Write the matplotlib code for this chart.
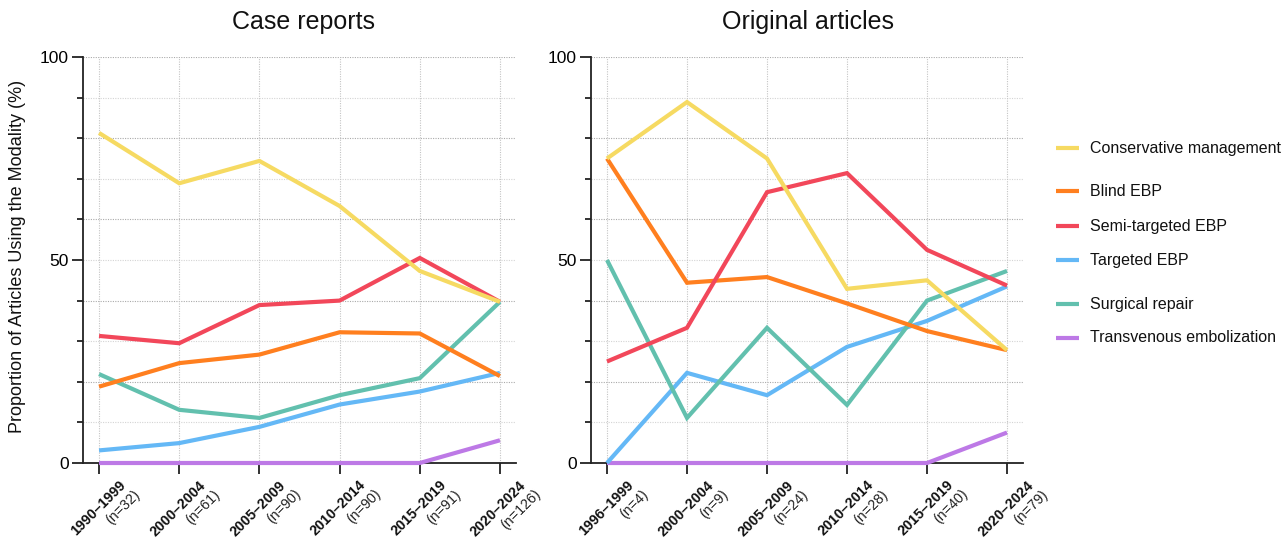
import matplotlib
matplotlib.use("Agg")
import matplotlib.pyplot as plt
from matplotlib.transforms import ScaledTranslation
from matplotlib.lines import Line2D

plt.rcParams['font.family'] = ['Liberation Sans', 'DejaVu Sans']

# ---------------- data ----------------
case_periods = ["1990\u20131999", "2000\u20132004", "2005\u20132009", "2010\u20132014", "2015\u20132019", "2020\u20132024"]
case_n = ["(n=32)", "(n=61)", "(n=90)", "(n=90)", "(n=91)", "(n=126)"]
orig_periods = ["1996\u20131999", "2000\u20132004", "2005\u20132009", "2010\u20132014", "2015\u20132019", "2020\u20132024"]
orig_n = ["(n=4)", "(n=9)", "(n=24)", "(n=28)", "(n=40)", "(n=79)"]

series_names = ["Conservative management", "Blind EBP", "Semi-targeted EBP",
                "Targeted EBP", "Surgical repair", "Transvenous embolization"]
series_colors = ["#F6DA62", "#FF7F1F", "#F2475A", "#64B8F6", "#62C0AE", "#BD79E6"]

case_conservative = [81.3, 68.9, 74.4, 63.3, 47.3, 39.7]
case_blind = [18.8, 24.6, 26.7, 32.2, 31.9, 21.4]
case_semi = [31.3, 29.5, 38.9, 40.0, 50.5, 39.7]
case_targeted = [3.1, 4.9, 8.9, 14.4, 17.6, 22.2]
case_surgical = [21.9, 13.1, 11.1, 16.7, 20.9, 39.7]
case_transvenous = [0, 0, 0, 0, 0, 5.6]

orig_conservative = [75.0, 88.9, 75.0, 42.9, 45.0, 27.8]
orig_blind = [75.0, 44.4, 45.8, 39.3, 32.5, 27.8]
orig_semi = [25.0, 33.3, 66.7, 71.4, 52.5, 43.7]
orig_targeted = [0.0, 22.2, 16.7, 28.6, 35.0, 43.5]
orig_surgical = [50.0, 11.1, 33.3, 14.3, 40.0, 47.3]
orig_transvenous = [0, 0, 0, 0, 0, 7.5]

case_series = [case_conservative, case_blind, case_semi, case_targeted, case_surgical, case_transvenous]
orig_series = [orig_conservative, orig_blind, orig_semi, orig_targeted, orig_surgical, orig_transvenous]

# ---------------- figure ----------------
W, H = 1282, 538
fig = plt.figure(figsize=(W / 100, H / 100), dpi=100)

def px_axes(x0, x1, ytop, ybot):
    return fig.add_axes([x0 / W, 1 - ybot / H, (x1 - x0) / W, (ybot - ytop) / H])

axL = px_axes(83, 516, 57, 463)
axR = px_axes(591, 1023, 57, 463)

draw_order = [5, 3, 4, 1, 2, 0]

def setup(ax, periods, ns, data, title, title_dx):
    x = list(range(len(periods)))
    ax.set_xlim(-0.2, len(periods) - 1 + 0.2)
    ax.set_ylim(0, 100)
    # grid
    for g in range(10, 101, 10):
        col = "#aaaaaa" if g % 20 == 0 else "#d4d4d4"
        ax.axhline(g, color=col, lw=0.8, ls=(0, (1, 1.2)), zorder=0)
    for xi in x:
        ax.axvline(xi, color="#c4c4c4", lw=0.8, ls=(0, (1, 1.2)), zorder=0)
    for i in draw_order:
        ax.plot(x, data[i], color=series_colors[i], lw=3.0, solid_capstyle='butt',
                solid_joinstyle='miter', clip_on=False, zorder=3)
    for s in ["top", "right"]:
        ax.spines[s].set_visible(False)
    for s in ["left", "bottom"]:
        ax.spines[s].set_linewidth(1.3)
        ax.spines[s].set_color("#222222")
    ax.set_yticks([0, 50, 100])
    ax.set_yticks(range(0, 101, 10), minor=True)
    ax.tick_params(axis='y', which='major', length=8, width=1.3, labelsize=12.5, pad=2, color="#222222")
    ax.tick_params(axis='y', which='minor', length=4, width=1.3, color="#222222")
    ax.set_xticks(x)
    ax.set_xticklabels([])
    ax.tick_params(axis='x', which='major', length=8, width=1.3, color="#222222")
    trans = ax.get_xaxis_transform()
    for xi, p, n in zip(x, periods, ns):
        t1 = trans + ScaledTranslation(24 / 100, -20 / 100, fig.dpi_scale_trans)
        ax.text(xi, 0, p, transform=t1, rotation=45, rotation_mode='anchor',
                ha='right', va='center', fontsize=10.3, fontweight='bold', color="#111111")
        t2 = trans + ScaledTranslation(39 / 100, -29 / 100, fig.dpi_scale_trans)
        ax.text(xi, 0, n, transform=t2, rotation=45, rotation_mode='anchor',
                ha='right', va='center', fontsize=10.3, color="#222222")
    pos = ax.get_position()
    fig.text((pos.x0 + pos.x1) / 2 + title_dx / W, 1 - 22 / H, title,
             ha='center', va='center', fontsize=18, color="#111111")

setup(axL, case_periods, case_n, case_series, "Case reports", 4)
setup(axR, orig_periods, orig_n, orig_series, "Original articles", 1)

fig.text(18 / W, 1 - 256 / H, "Proportion of Articles Using the Modality (%)",
         rotation=90, ha='center', va='center', fontsize=13, color="#111111")

# legend (manual, uneven grouping)
leg_y = [148, 191, 226, 260, 304, 338]
for name, col, yy in zip(series_names, series_colors, leg_y):
    fig.add_artist(Line2D([1056 / W, 1079 / W], [1 - yy / H, 1 - yy / H], color=col, lw=3.0,
                          solid_capstyle='butt'))
    fig.text(1090 / W, 1 - yy / H, name, ha='left', va='center', fontsize=11.5, color="#111111")

fig.savefig("out.png", dpi=100)
